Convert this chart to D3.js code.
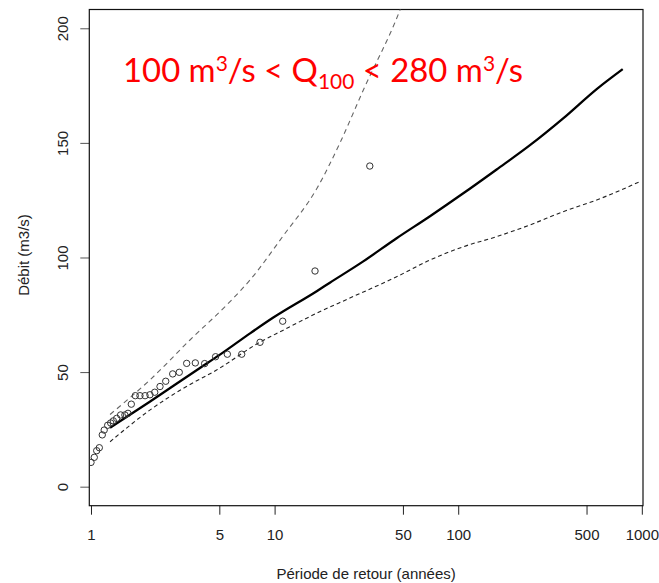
<!DOCTYPE html>
<html>
<head>
<meta charset="utf-8">
<script src="https://cdn.jsdelivr.net/npm/d3@7"></script>
<style>
  html, body { margin: 0; padding: 0; background: #fff; }
  svg { display: block; }
</style>
</head>
<body>
<svg id="chart" width="659" height="583"></svg>
<script>
// ---------- data ----------
const xTicks = [1, 5, 10, 50, 100, 500, 1000];
const yTicks = [0, 50, 100, 150, 200];

// observed floods: return period (years) and discharge (m3/s)
const obsT = [1.00, 1.042, 1.074, 1.11, 1.152, 1.18, 1.233, 1.28, 1.323, 1.38, 1.45,
              1.53, 1.59, 1.658, 1.743, 1.848, 1.97, 2.094, 2.224, 2.376, 2.553,
              2.786, 3.025, 3.32, 3.70, 4.16, 4.77, 5.53, 6.62, 8.33, 11.07, 16.6, 33.0];
const obsQ = [10.6, 12.8, 15.7, 17.0, 22.6, 24.7, 26.8, 27.8, 28.7, 29.8, 31.3,
              31.3, 32.0, 36.0, 39.7, 39.7, 39.7, 40.1, 41.2, 43.7, 46.0,
              49.2, 49.9, 53.8, 54.0, 53.7, 56.7, 57.8, 57.8, 63.0, 72.2, 94.1, 139.9];

// fitted distribution
const fitT = [1.27, 2.1, 3.92, 5.04, 7.35, 9.84, 16.96, 20.0, 30.4, 46.2, 70.2, 106.6, 162, 246, 373, 568, 787];
const fitQ = [25.7, 37.2, 51.8, 57.6, 66.9, 73.8, 85.3, 89.0, 98.3, 108.4, 118.0, 128.0, 138.4, 149.0, 160.7, 173.5, 182.2];

// upper confidence bound
const upT = [1.27, 2.096, 3.46, 5.84, 7.35, 11.15, 16.96, 22.7, 30.4, 48.2, 52];
const upQ = [31.5, 46.6, 64.0, 81.5, 90.2, 109.5, 130.0, 150.0, 173.0, 208, 215];

// lower confidence bound
const loT = [1.27, 2.1, 3.18, 4.83, 8.3, 11.15, 16.96, 25.7, 46.2, 70.2, 106.6, 162, 246, 373, 568, 977];
const loQ = [19.6, 33.5, 42.9, 50.9, 63.0, 68.3, 75.7, 82.3, 91.6, 98.9, 104.7, 109.1, 114.2, 120.0, 125.1, 133.1];

const xDomain = [0.979, 1015];
const yDomain = [-8.3, 208.2];

// ---------- layout ----------
const box = { left: 89.3, right: 643, top: 9.5, bottom: 505.7 };
const svg = d3.select("#chart");

const x = d3.scaleLog().domain(xDomain).range([box.left, box.right]);
const y = d3.scaleLinear().domain(yDomain).range([box.bottom, box.top]);

svg.append("defs").append("clipPath").attr("id", "plotclip")
  .append("rect")
  .attr("x", box.left).attr("y", box.top)
  .attr("width", box.right - box.left).attr("height", box.bottom - box.top);

const font = "'Liberation Sans', Arial, sans-serif";

// x axis
const xAxis = d3.axisBottom(x).tickValues(xTicks).tickFormat(d3.format("d")).tickSize(9).tickPadding(5);
const gx = svg.append("g").attr("transform", `translate(0,${box.bottom})`).call(xAxis);
gx.select(".domain").remove();
gx.selectAll(".tick line").attr("stroke", "#222").attr("stroke-width", 1);
gx.selectAll(".tick text").attr("font-family", font).attr("font-size", 15).attr("fill", "#222")
  .attr("dy", null).attr("y", 34);

// y axis
const yAxis = d3.axisLeft(y).tickValues(yTicks).tickSize(9).tickFormat(d3.format("d"));
const gy = svg.append("g").attr("transform", `translate(${box.left},0)`).call(yAxis);
gy.select(".domain").remove();
gy.selectAll(".tick line").attr("stroke", "#555").attr("stroke-width", 1);
gy.selectAll(".tick text").attr("font-family", font).attr("font-size", 15).attr("fill", "#222")
  .attr("x", null).attr("dy", null).attr("text-anchor", "middle")
  .attr("transform", "translate(-21,0) rotate(-90)");

// box
svg.append("rect")
  .attr("x", box.left).attr("y", box.top)
  .attr("width", box.right - box.left).attr("height", box.bottom - box.top)
  .attr("fill", "none").attr("stroke", "#111").attr("stroke-width", 1.2);

// axis titles
svg.append("text")
  .attr("x", (box.left + box.right) / 2).attr("y", 579)
  .attr("text-anchor", "middle").attr("font-family", font).attr("font-size", 15).attr("fill", "#222")
  .text("Période de retour (années)");
svg.append("text")
  .attr("transform", `translate(29,255) rotate(-90)`)
  .attr("text-anchor", "middle").attr("font-family", font).attr("font-size", 15).attr("fill", "#222")
  .text("Débit (m3/s)");

// lines
const plot = svg.append("g").attr("clip-path", "url(#plotclip)");
const line = d3.line().x(d => x(d[0])).y(d => y(d[1])).curve(d3.curveMonotoneX);

plot.append("path").datum(d3.zip(upT, upQ))
  .attr("d", line).attr("fill", "none").attr("stroke", "#666").attr("stroke-width", 1.1)
  .attr("stroke-dasharray", "5,4");
plot.append("path").datum(d3.zip(loT, loQ))
  .attr("d", line).attr("fill", "none").attr("stroke", "#222").attr("stroke-width", 1.1)
  .attr("stroke-dasharray", "4,3");
plot.append("path").datum(d3.zip(fitT, fitQ))
  .attr("d", line).attr("fill", "none").attr("stroke", "#000").attr("stroke-width", 2.3);

// points
plot.selectAll("circle.obs").data(d3.zip(obsT, obsQ)).join("circle")
  .attr("class", "obs")
  .attr("cx", d => x(d[0])).attr("cy", d => y(d[1])).attr("r", 3.2)
  .attr("fill", "none").attr("stroke", "#333").attr("stroke-width", 1);

// annotation
const ann = svg.append("text")
  .attr("x", 123).attr("y", 81.7)
  .attr("font-family", "Lato, 'Open Sans', sans-serif").attr("font-size", 33)
  .attr("fill", "#ff0000");
ann.append("tspan").text("100 m");
ann.append("tspan").attr("dy", -11).attr("font-size", 21).text("3");
ann.append("tspan").attr("dy", 11).text("/s < Q");
ann.append("tspan").attr("dy", 7).attr("font-size", 21).text("100");
ann.append("tspan").attr("dy", -7).text(" < 280 m");
ann.append("tspan").attr("dy", -11).attr("font-size", 21).text("3");
ann.append("tspan").attr("dy", 11).text("/s");
// fit the annotation width to the reference (~400 px)
const w = ann.node().getComputedTextLength();
const k = 400 / w;
ann.attr("transform", `translate(123,81.7) scale(${k},1) translate(-123,-81.7)`);
</script>
</body>
</html>
